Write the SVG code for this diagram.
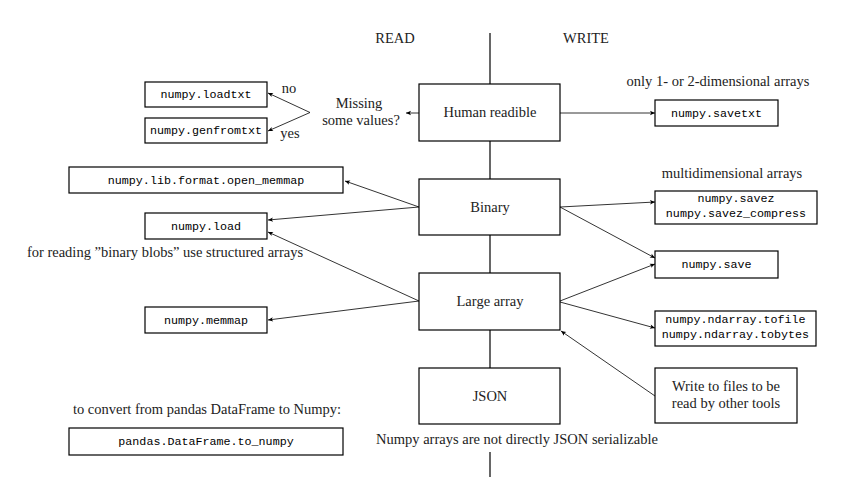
<svg xmlns="http://www.w3.org/2000/svg" width="846" height="502" viewBox="0 0 846 502">
<defs>
<style>
.box{fill:#fff;stroke:#000;stroke-width:1.2}
.t{font-family:"Liberation Serif","Times New Roman",Tinos,"Noto Serif","DejaVu Serif",FreeSerif,serif;font-size:14.5px;fill:#222;text-anchor:middle}
.m{font-family:"Liberation Mono","DejaVu Sans Mono",monospace;font-size:11.7px;fill:#000;text-anchor:middle}
.spine{stroke:#000;stroke-width:1.2;fill:none}
.arr{stroke:#000;stroke-width:0.8;fill:none;marker-end:url(#tip)}
</style>
<marker id="tip" markerUnits="userSpaceOnUse" viewBox="-6 -3 7 6" refX="0" refY="0" markerWidth="7" markerHeight="6" orient="auto">
<path d="M0,0 L-5,-2.2 L-3.8,0 L-5,2.2 Z" fill="#000"/>
</marker>
</defs>
<rect width="846" height="502" fill="#fff"/>

<g id="spine">
<line class="spine" x1="490" y1="33" x2="490" y2="84"/>
<line class="spine" x1="490" y1="141" x2="490" y2="179"/>
<line class="spine" x1="490" y1="235" x2="490" y2="273"/>
<line class="spine" x1="490" y1="330" x2="490" y2="368"/>
<line class="spine" x1="490" y1="452" x2="490" y2="477"/>
</g>

<g id="labels">
<text class="t" x="395" y="43">READ</text>
<text class="t" x="586" y="43">WRITE</text>
<text class="t" x="718" y="86">only 1- or 2-dimensional arrays</text>
<text class="t" x="732" y="178">multidimensional arrays</text>
<text class="t" x="165" y="257">for reading ”binary blobs” use structured arrays</text>
<text class="t" x="207" y="414">to convert from pandas DataFrame to Numpy:</text>
<text class="t" x="517" y="444">Numpy arrays are not directly JSON serializable</text>
<text class="t" x="289" y="93">no</text>
<text class="t" x="290" y="138">yes</text>
</g>

<g id="missing">
<text class="t" x="359" y="108">Missing</text>
<text class="t" x="361" y="125">some values?</text>
</g>

<g id="human">
<rect class="box" x="419" y="84" width="141" height="57"/>
<text class="t" x="490" y="117">Human readible</text>
</g>
<g id="binary">
<rect class="box" x="419" y="179" width="141" height="56"/>
<text class="t" x="490" y="212">Binary</text>
</g>
<g id="large">
<rect class="box" x="419" y="273" width="141" height="57"/>
<text class="t" x="490" y="306">Large array</text>
</g>
<g id="json">
<rect class="box" x="419" y="368" width="141" height="56"/>
<text class="t" x="490" y="401">JSON</text>
</g>

<g id="loadtxt">
<rect class="box" x="145" y="82" width="122" height="25"/>
<text class="m" x="206" y="98">numpy.loadtxt</text>
</g>
<g id="genfromtxt">
<rect class="box" x="145" y="118" width="122" height="25"/>
<text class="m" x="206" y="134">numpy.genfromtxt</text>
</g>
<g id="open_memmap">
<rect class="box" x="69" y="167" width="274" height="26"/>
<text class="m" x="206" y="184">numpy.lib.format.open_memmap</text>
</g>
<g id="load">
<rect class="box" x="145" y="213" width="122" height="26"/>
<text class="m" x="206" y="230">numpy.load</text>
</g>
<g id="memmap">
<rect class="box" x="145" y="307" width="122" height="26"/>
<text class="m" x="206" y="324">numpy.memmap</text>
</g>
<g id="pandas">
<rect class="box" x="69" y="428" width="274" height="27"/>
<text class="m" x="206" y="445">pandas.DataFrame.to_numpy</text>
</g>

<g id="savetxt">
<rect class="box" x="655" y="100" width="123" height="26"/>
<text class="m" x="716.5" y="117">numpy.savetxt</text>
</g>
<g id="savez">
<rect class="box" x="655" y="191" width="162" height="33"/>
<text class="m" x="736" y="202">numpy.savez</text>
<text class="m" x="736" y="217">numpy.savez_compress</text>
</g>
<g id="save">
<rect class="box" x="655" y="251" width="123" height="27"/>
<text class="m" x="716.5" y="268">numpy.save</text>
</g>
<g id="tofile">
<rect class="box" x="655" y="311" width="161" height="35"/>
<text class="m" x="735.5" y="323">numpy.ndarray.tofile</text>
<text class="m" x="735.5" y="338">numpy.ndarray.tobytes</text>
</g>
<g id="othertools">
<rect class="box" x="655" y="368" width="142" height="55"/>
<text class="t" x="726" y="391">Write to files to be</text>
<text class="t" x="726" y="408">read by other tools</text>
</g>

<g id="connectors">
<line class="arr" x1="419" y1="113" x2="406" y2="113"/>
<line class="arr" x1="310" y1="112.5" x2="268" y2="93"/>
<line class="arr" x1="310" y1="112.5" x2="268" y2="131"/>
<line class="arr" x1="560" y1="113" x2="655" y2="113"/>
<line class="arr" x1="419" y1="207" x2="345" y2="181"/>
<line class="arr" x1="419" y1="207" x2="268" y2="220"/>
<line class="arr" x1="419" y1="301" x2="268" y2="232"/>
<line class="arr" x1="419" y1="301" x2="268" y2="320"/>
<line class="arr" x1="560" y1="207" x2="655" y2="202"/>
<line class="arr" x1="560" y1="207" x2="655" y2="258"/>
<line class="arr" x1="560" y1="301" x2="655" y2="264"/>
<line class="arr" x1="560" y1="302" x2="655" y2="328"/>
<line class="arr" x1="655" y1="396" x2="561" y2="331"/>
</g>
</svg>
